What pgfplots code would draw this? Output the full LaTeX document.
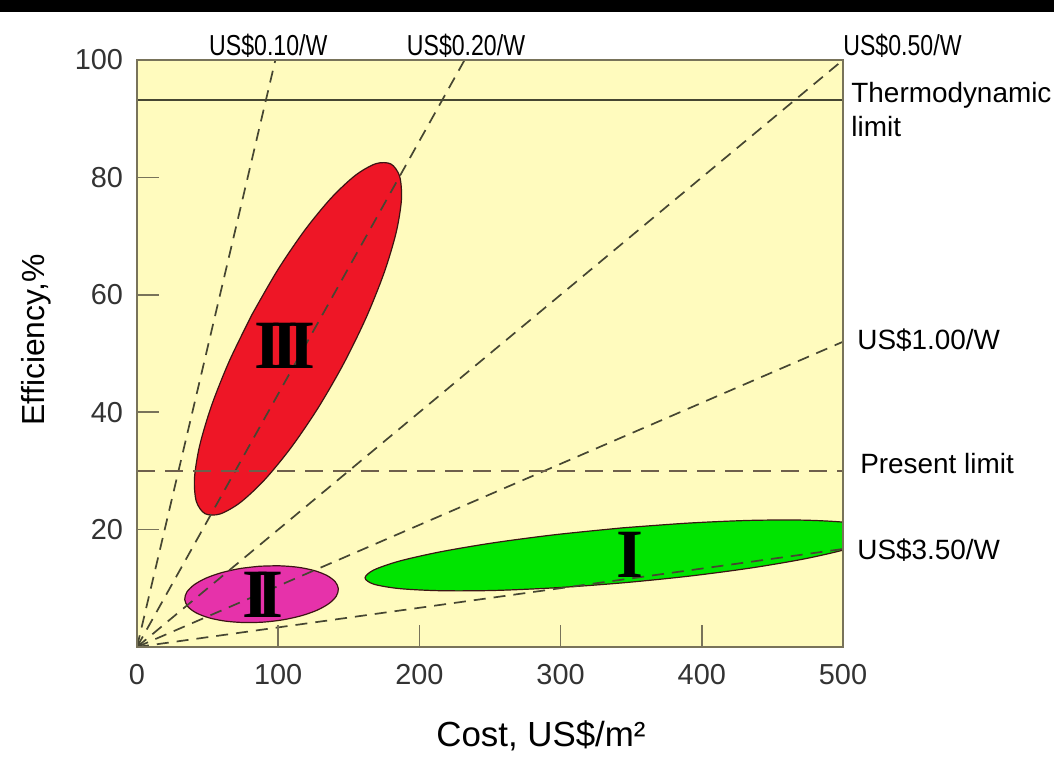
\documentclass[border=0pt]{standalone}
\usepackage{pgfplots}
\pgfplotsset{compat=1.18}
\usepackage{fontspec}
\setmainfont{Liberation Sans}
\newfontfamily\romfont{Liberation Serif}
\newfontfamily\narrowfont{Liberation Sans}[FakeStretch=0.8]

\definecolor{bgyellow}{RGB}{255,251,190}
\definecolor{redfill}{RGB}{238,22,38}
\definecolor{pinkfill}{RGB}{230,50,170}
\definecolor{greenfill}{RGB}{0,228,0}
\definecolor{axisgray}{RGB}{120,115,90}
\definecolor{dashgray}{RGB}{70,70,50}
\definecolor{limitbrown}{RGB}{110,95,75}
\definecolor{outline}{RGB}{60,20,20}

\pgfplotsset{
  costline/.style={dashgray, line width=0.85bp, dash pattern=on 6bp off 4bp},
  region/.style={draw=outline, line width=0.6bp, smooth},
}

\begin{document}
\begin{tikzpicture}
% page = 1054 x 767 px, 1 px = 0.5 bp, axis origin at px (137,647)
\useasboundingbox (-68.5bp,-60bp) rectangle (458.5bp,323.5bp);
\fill[white] (-68.5bp,-60bp) rectangle (458.5bp,323.5bp);
\fill[black] (-68.5bp,317.5bp) rectangle (458.5bp,323.5bp);

\begin{axis}[
  at={(0,0)}, anchor=south west,
  scale only axis, width=353bp, height=293.5bp,
  xmin=0, xmax=500, ymin=0, ymax=100,
  axis background/.style={fill=bgyellow},
  axis on top,
  clip mode=individual,
  axis line style={draw=axisgray, line width=1bp},
  xtick={0,100,...,500}, ytick={20,40,...,100},
  xtick pos=bottom, ytick pos=left,
  tick align=inside, major tick length=11bp,
  tick style={draw=axisgray, line width=0.8bp},
  /pgf/number format/assume math mode=true,
  tick label style={font=\fontsize{14.5}{16}\selectfont, color=black!80},
  xticklabel style={yshift=-5bp},
  yticklabel style={xshift=-3.5bp},
]

% region III (red)
\addplot[region, fill=redfill] coordinates {
  (81.49,56.66) (65.56,48.81) (52.93,41.21) (44.45,34.38) (40.72,28.79)
  (41.99,24.82) (48.16,22.72) (58.81,22.66) (73.24,24.63) (90.43,28.50)
  (109.23,34.01) (128.36,40.77) (146.51,48.34) (162.44,56.19) (175.07,63.79)
  (183.55,70.62) (187.28,76.21) (186.01,80.18) (179.84,82.28) (169.19,82.34)
  (154.76,80.37) (137.57,76.50) (118.77,70.99) (99.64,64.23) (81.49,56.66)
} -- cycle;

% region II (pink)
\addplot[region, fill=pinkfill] coordinates {
  (86.82,13.76) (72.79,13.36) (59.81,12.66) (48.75,11.72) (40.40,10.59)
  (35.29,9.35) (33.80,8.09) (36.01,6.88) (41.78,5.83) (50.71,4.99)
  (62.20,4.42) (75.45,4.17) (89.58,4.24) (103.61,4.64) (116.60,5.34)
  (127.65,6.28) (136.00,7.41) (141.11,8.65) (142.60,9.92) (140.39,11.12)
  (134.62,12.17) (125.69,13.01) (114.20,13.58) (100.95,13.83) (86.82,13.76)
} -- cycle;

% region I (green)
\addplot[region, fill=greenfill] coordinates {
  (343.5,20.29) (296.4,19.14) (252.5,17.75) (214.8,16.21) (185.9,14.64)
  (167.7,13.12) (161.5,11.78) (167.7,10.70) (185.9,9.95) (214.8,9.59)
  (252.5,9.63) (296.4,10.09) (343.5,10.92) (390.6,12.06) (434.5,13.45)
  (472.2,14.99) (501.1,16.57) (519.3,18.08) (525.5,19.42) (519.3,20.50)
  (501.1,21.25) (472.2,21.61) (434.5,21.57) (390.6,21.11) (343.5,20.29)
} -- cycle;

% cost lines
\addplot[costline] coordinates {(0,0) (98,100)};
\addplot[costline] coordinates {(0,0) (232,100)};
\addplot[costline] coordinates {(0,0) (500,100)};
\addplot[costline] coordinates {(0,0) (500,52)};
\addplot[costline] coordinates {(0,0) (500,16.7)};

% limits
\addplot[dashgray, line width=0.8bp] coordinates {(0,93.2) (500,93.2)};
\addplot[limitbrown, line width=1bp, dash pattern=on 9bp off 5bp] coordinates {(0,30) (500,30)};

% region names
\node[font=\romfont\bfseries\fontsize{34.7}{35}\selectfont, inner sep=0]
  at (axis cs:104.8,51.3) {I\kern-4.8bp I\kern-4.8bp I};
\node[font=\romfont\bfseries\fontsize{34.7}{35}\selectfont, inner sep=0]
  at (axis cs:89.2,8.9) {I\kern-6.4bp I};
\node[font=\romfont\bfseries\fontsize{34.7}{35}\selectfont, inner sep=0]
  at (axis cs:348.8,15.7) {I};

% line labels
\node[font=\narrowfont\fontsize{14.5}{15}\selectfont, inner sep=0] at (axis cs:93,102.4) {US\$0.10/W};
\node[font=\narrowfont\fontsize{14.5}{15}\selectfont, inner sep=0] at (axis cs:233,102.4) {US\$0.20/W};
\node[font=\narrowfont\fontsize{14.5}{15}\selectfont, inner sep=0, anchor=west] at (axis cs:500,102.4) {US\$0.50/W};
\node[font=\fontsize{14}{15}\selectfont, inner sep=0, anchor=base west] at (axis cs:505.7,92.8) {Thermodynamic};
\node[font=\fontsize{14}{15}\selectfont, inner sep=0, anchor=base west] at (axis cs:505.7,86.9) {limit};
\node[font=\fontsize{14}{15}\selectfont, inner sep=0, anchor=west] at (axis cs:509.9,52.3) {US\$1.00/W};
\node[font=\fontsize{14}{15}\selectfont, inner sep=0, anchor=west] at (axis cs:512,31.3) {Present limit};
\node[font=\fontsize{14}{15}\selectfont, inner sep=0, anchor=west] at (axis cs:509.9,16.5) {US\$3.50/W};

% axis titles
\node[font=\fontsize{17.5}{18}\selectfont, inner sep=0, anchor=base] at (axis cs:286.1,-17.0) {Cost, US\$/m²};
\node[font=\fontsize{16}{17}\selectfont, inner sep=0, anchor=base, rotate=90] at (axis cs:-65.2,52.3) {Efficiency,\%};

\end{axis}
\end{tikzpicture}
\end{document}
